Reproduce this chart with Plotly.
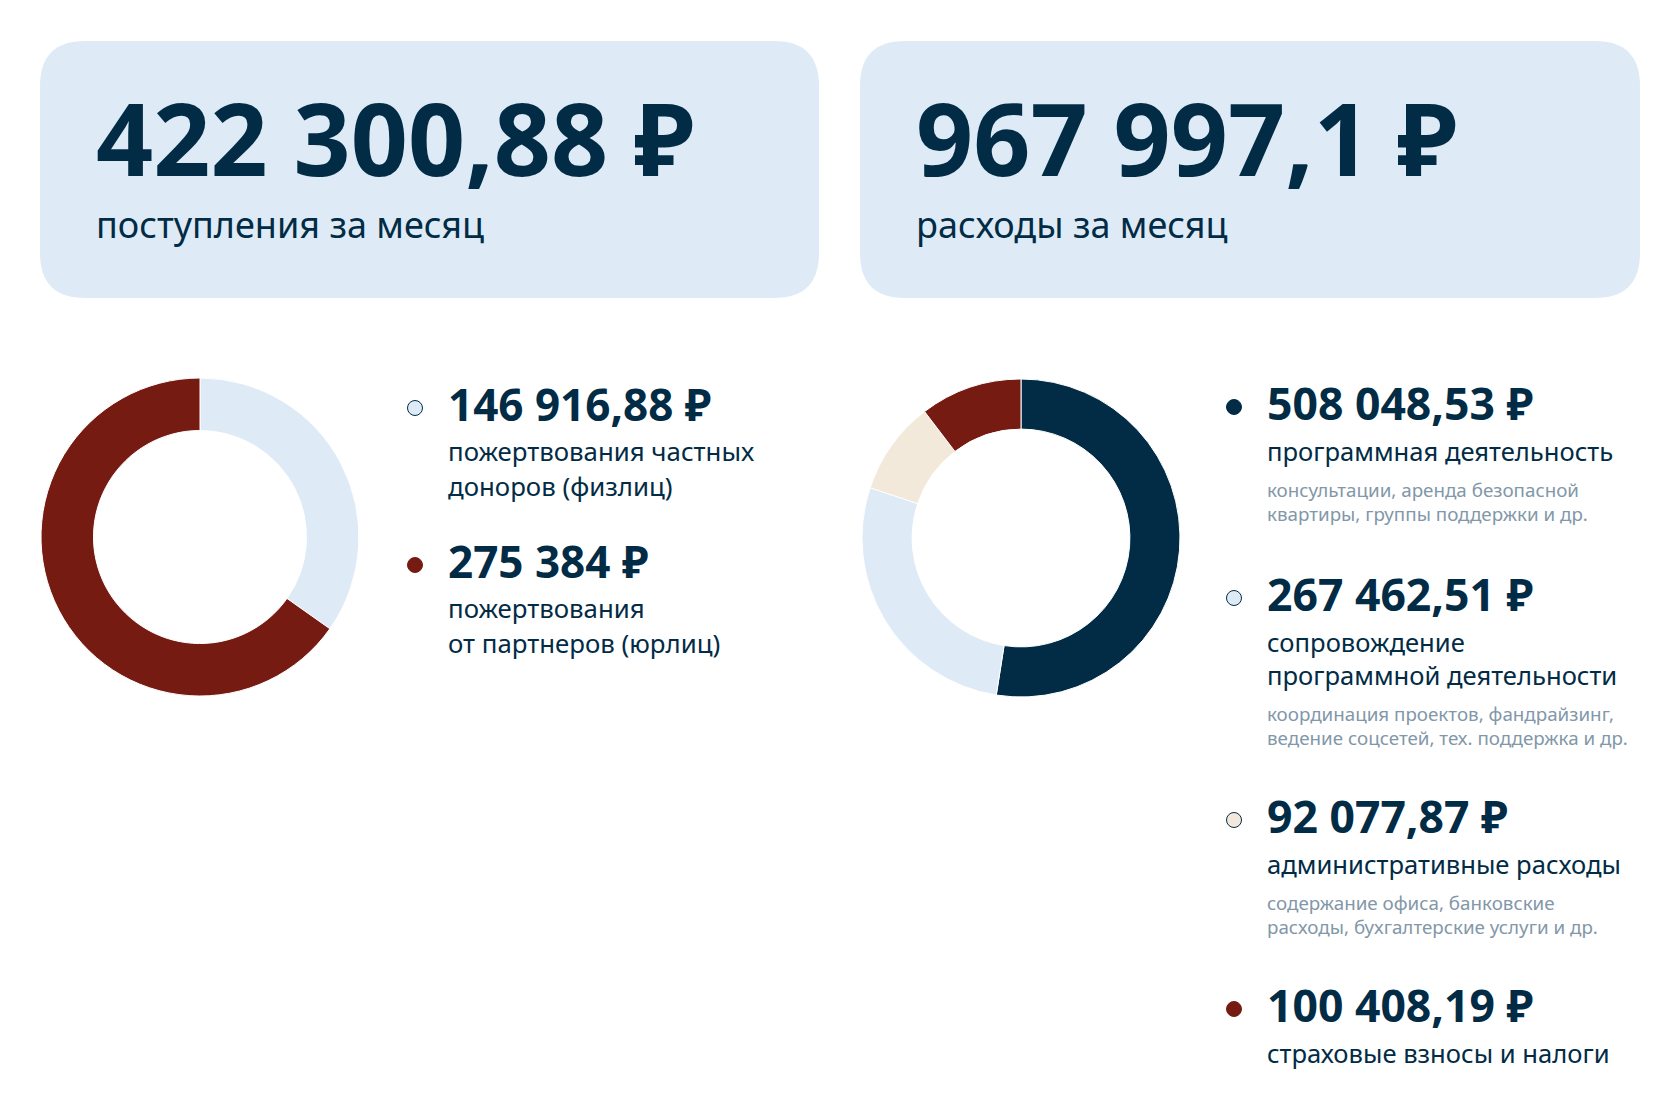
import plotly.graph_objects as go

# ---------------- data ----------------
income_total = 422300.88
expense_total = 967997.10
income_caption = "поступления за месяц"
expense_caption = "расходы за месяц"

income_values = [146916.88, 275384.00]
income_labels = [["пожертвования частных", "доноров (физлиц)"],
                 ["пожертвования", "от партнеров (юрлиц)"]]

expense_values = [508048.53, 267462.51, 92077.87, 100408.19]
expense_labels = [["программная деятельность"],
                  ["сопровождение", "программной деятельности"],
                  ["административные расходы"],
                  ["страховые взносы и налоги"]]
expense_notes = [["консультации, аренда безопасной", "квартиры, группы поддержки и др."],
                 ["координация проектов, фандрайзинг,", "ведение соцсетей, тех. поддержка и др."],
                 ["содержание офиса, банковские", "расходы, бухгалтерские услуги и др."],
                 []]

# ---------------- styles ----------------
W, H = 1680, 1112
PAGE = 8  # default page margin of the html body; screen coords = figure coords + PAGE
NAVY = "#022b45"
RED = "#761b12"
LIGHT = "#deebf7"
BEIGE = "#f2e9da"
GRAY = "#8297a8"
BOX = "#deebf7"
FONT = "Noto Sans"

income_colors = [LIGHT, RED]
expense_colors = [NAVY, LIGHT, BEIGE, RED]


def fmt(v):
    s = f"{v:,.2f}"
    whole, frac = s.split(".")
    frac = frac.rstrip("0")
    whole = whole.replace(",", " ")
    return (whole + ("," + frac if frac else "")) + " ₽"


BASE_K = 0.39  # offset from middle of text box to baseline, in em


def text(x, baseline, s, size, color=NAVY, bold=False):
    return dict(x=x, y=baseline - BASE_K * size, xref="x", yref="y",
                text=("<b>%s</b>" % s) if bold else s, showarrow=False,
                xanchor="left", yanchor="middle",
                font=dict(family=FONT, size=size, color=color))


def rounded(x0, y0, x1, y1, r):
    return (f"M{x0+r},{y0} L{x1-r},{y0} Q{x1},{y0} {x1},{y0+r} "
            f"L{x1},{y1-r} Q{x1},{y1} {x1-r},{y1} L{x0+r},{y1} "
            f"Q{x0},{y1} {x0},{y1-r} L{x0},{y0+r} Q{x0},{y0} {x0+r},{y0} Z")


def domain(cx, cy, r):
    cx -= PAGE
    cy -= PAGE
    return dict(x=[(cx - r) / W, (cx + r) / W],
                y=[(H - cy - r) / H, (H - cy + r) / H])


fig = go.Figure()

# donuts
fig.add_trace(go.Pie(values=income_values, sort=False, direction="clockwise",
                     rotation=0, hole=0.67, textinfo="none", hoverinfo="skip",
                     marker=dict(colors=income_colors, line=dict(color="white", width=1)),
                     domain=domain(200, 537, 159), showlegend=False))
fig.add_trace(go.Pie(values=expense_values, sort=False, direction="clockwise",
                     rotation=0, hole=0.685, textinfo="none", hoverinfo="skip",
                     marker=dict(colors=expense_colors, line=dict(color="white", width=1)),
                     domain=domain(1021, 538, 159), showlegend=False))

annotations = []
shapes = [
    dict(type="path", path=rounded(40, 41, 819, 298, 45), xref="x", yref="y",
         fillcolor=BOX, line=dict(width=0), layer="below"),
    dict(type="path", path=rounded(860, 41, 1640, 298, 45), xref="x", yref="y",
         fillcolor=BOX, line=dict(width=0), layer="below"),
]

# headline boxes
annotations.append(text(94, 176, fmt(income_total), 100, bold=True))
annotations.append(text(94, 239, income_caption, 36))
annotations.append(text(914, 176, fmt(expense_total), 100, bold=True))
annotations.append(text(914, 239, expense_caption, 36))

# income legend
mk_x, mk_y, mk_c, mk_l = [], [], [], []
inc_rows = [421, 578]
for val, lab, col, b in zip(income_values, income_labels, income_colors, inc_rows):
    mk_x.append(415); mk_y.append(b - 13); mk_c.append(col)
    mk_l.append(NAVY if col in (LIGHT, BEIGE) else col)
    annotations.append(text(446, b, fmt(val), 44, bold=True))
    for i, line in enumerate(lab):
        annotations.append(text(446, b + 40 + 35 * i, line, 25.8))

# expense legend
exp_rows = [420, 611, 833, 1022]
for val, lab, note, col, b in zip(expense_values, expense_labels, expense_notes,
                                  expense_colors, exp_rows):
    mk_x.append(1234); mk_y.append(b - 13); mk_c.append(col)
    mk_l.append(NAVY if col in (LIGHT, BEIGE) else col)
    annotations.append(text(1265, b, fmt(val), 44.5, bold=True))
    y = b + 41
    for i, line in enumerate(lab):
        annotations.append(text(1265, y, line, 25.6))
        if i < len(lab) - 1:
            y += 33
    for j, line in enumerate(note):
        annotations.append(text(1265, y + 36 + 24 * j, line, 18.8, color=GRAY))

fig.add_trace(go.Scatter(x=mk_x, y=mk_y, mode="markers", hoverinfo="skip",
                         marker=dict(size=15, color=mk_c, line=dict(color=mk_l, width=1)),
                         showlegend=False))

fig.update_layout(
    width=W, height=H, margin=dict(l=0, r=0, t=0, b=0),
    paper_bgcolor="white", plot_bgcolor="white",
    xaxis=dict(range=[PAGE, W + PAGE], visible=False, domain=[0, 1], fixedrange=True),
    yaxis=dict(range=[H + PAGE, PAGE], visible=False, domain=[0, 1], fixedrange=True),
    annotations=annotations, shapes=shapes, showlegend=False,
)

fig.write_html("out.html", config={"displayModeBar": False})
